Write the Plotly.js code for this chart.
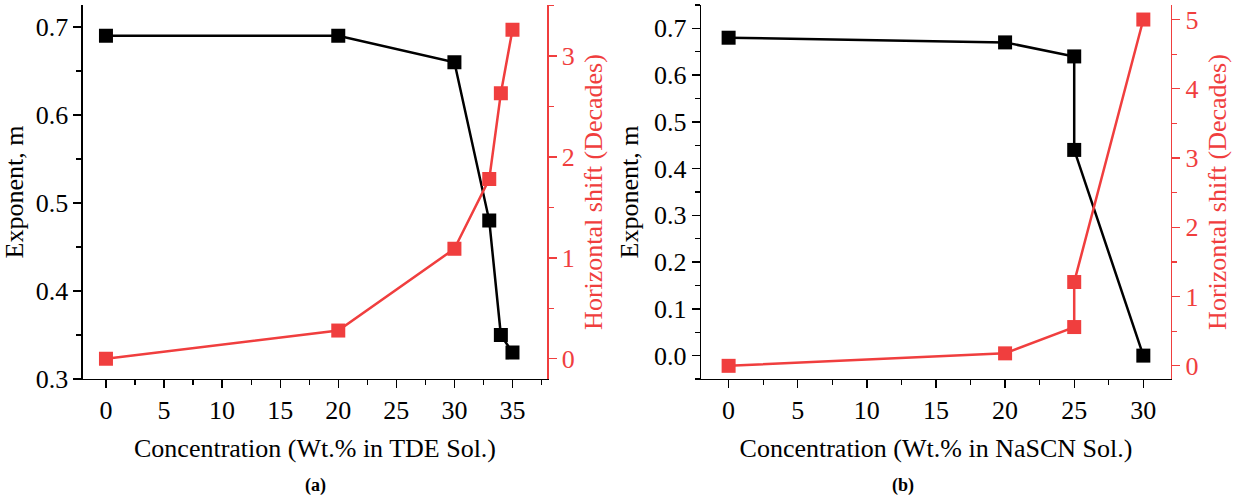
<!DOCTYPE html>
<html>
<head>
<meta charset="utf-8">
<script src="https://cdn.plot.ly/plotly-3.0.1.min.js"></script>
<style>html,body{margin:0;padding:0;background:#fff;}#chart{width:1233px;height:499px;}</style>
</head>
<body>
<div id="chart"></div>
<script>
// Panel (a): TDE solution
const concA = [0, 20, 30, 33, 34, 35];
const exponentA = [0.69, 0.69, 0.66, 0.48, 0.35, 0.33];
const shiftA = [0.0, 0.28, 1.09, 1.78, 2.63, 3.26];

// Panel (b): NaSCN solution
const concB = [0, 20, 25, 25, 30];
const exponentB = [0.68, 0.67, 0.64, 0.44, 0.0];
const shiftB = [0.0, 0.18, 0.56, 1.21, 5.0];

const xTitleA = "Concentration (Wt.% in TDE Sol.)";
const xTitleB = "Concentration (Wt.% in NaSCN Sol.)";
const yTitleLeft = "Exponent, m";
const yTitleRight = "Horizontal shift (Decades)";
const panelLabels = ["(a)", "(b)"];

const BLACK = "#000000";
const RED = "#f03e3e";
const FONT = "'Liberation Serif', 'Times New Roman', Times, 'DejaVu Serif', serif";
const FS = 26;
const TFS = 26;

function trace(x, y, xa, ya, color) {
  return {
    x: x, y: y, xaxis: xa, yaxis: ya, type: "scatter", mode: "lines+markers",
    line: {color: color, width: 2.5},
    marker: {symbol: "square", size: 14, color: color},
    showlegend: false, hoverinfo: "x+y"
  };
}

const data = [
  trace(concA, exponentA, "x", "y", BLACK),
  trace(concA, shiftA, "x", "y2", RED),
  trace(concB, exponentB, "x2", "y3", BLACK),
  trace(concB, shiftB, "x2", "y4", RED)
];

const yDom = [0.2405, 0.99];
const domA = [0.0671, 0.4439];
const domB = [0.5685, 0.9497];

function xAxis(dom, range, anchor, title) {
  return {
    domain: dom, range: range, anchor: anchor, dtick: 5, tick0: 0,
    ticks: "outside", ticklen: 8, tickwidth: 1.3, tickcolor: BLACK,
    minor: {dtick: 2.5, ticks: "outside", ticklen: 5, tickwidth: 1.3, tickcolor: BLACK},
    showline: true, linecolor: BLACK, linewidth: 1.3, showgrid: false, zeroline: false,
    tickfont: {family: FONT, size: FS, color: BLACK},
    title: {text: title, font: {family: FONT, size: TFS, color: BLACK}, standoff: 14}
  };
}
function topAxis(dom, range, anchor, overlay) {
  return {
    domain: dom, range: range, anchor: anchor, overlaying: overlay, side: "top",
    dtick: 5, tick0: 0, ticks: "inside", ticklen: 8, tickwidth: 1.3, tickcolor: BLACK,
    minor: {dtick: 2.5, ticks: "inside", ticklen: 5, tickwidth: 1.3, tickcolor: BLACK},
    showline: true, linecolor: BLACK, linewidth: 1.3, showgrid: false, zeroline: false,
    showticklabels: false
  };
}
function yLeft(range, anchor) {
  return {
    domain: yDom, range: range, anchor: anchor, dtick: 0.1, tick0: 0, tickformat: ".1f",
    ticks: "outside", ticklen: 8, tickwidth: 1.3, tickcolor: BLACK,
    minor: {dtick: 0.05, ticks: "outside", ticklen: 5, tickwidth: 1.3, tickcolor: BLACK},
    showline: true, linecolor: BLACK, linewidth: 1.3, showgrid: false, zeroline: false,
    tickfont: {family: FONT, size: FS, color: BLACK},
    title: {text: yTitleLeft, font: {family: FONT, size: TFS, color: BLACK}, standoff: 8}
  };
}
function yRight(range, anchor, overlay) {
  return {
    domain: yDom, range: range, anchor: anchor, overlaying: overlay, side: "right",
    dtick: 1, tick0: 0,
    ticks: "outside", ticklen: 8, tickwidth: 1.3, tickcolor: RED,
    minor: {dtick: 0.5, ticks: "outside", ticklen: 5, tickwidth: 1.3, tickcolor: RED},
    showline: true, linecolor: RED, linewidth: 1.3, showgrid: false, zeroline: false,
    tickfont: {family: FONT, size: FS, color: RED},
    title: {text: yTitleRight, font: {family: FONT, size: TFS, color: RED}, standoff: 10}
  };
}

const layout = {
  width: 1233, height: 499,
  margin: {l: 0, r: 0, t: 0, b: 0},
  paper_bgcolor: "#ffffff", plot_bgcolor: "#ffffff",
  font: {family: FONT, size: FS, color: BLACK},
  xaxis: xAxis(domA, [-2, 38], "y", xTitleA),
  yaxis: yLeft([0.3, 0.725], "x"),
  yaxis2: yRight([-0.2, 3.505], "x", "y"),
  xaxis2: xAxis(domB, [-2, 32], "y3", xTitleB),
  yaxis3: yLeft([-0.05, 0.75], "x2"),
  yaxis4: yRight([-0.19, 5.21], "x2", "y3"),
  xaxis3: topAxis(domA, [-2, 38], "y", "x"),
  xaxis4: topAxis(domB, [-2, 32], "y3", "x2"),
  annotations: [
    {text: "<b>" + panelLabels[0] + "</b>", xref: "paper", yref: "paper", x: 303/1233, y: 1 - 485/499,
     yanchor: "middle", showarrow: false, font: {family: FONT, size: 18, color: BLACK}},
    {text: "<b>" + panelLabels[1] + "</b>", xref: "paper", yref: "paper", x: 916/1233, y: 1 - 485/499,
     yanchor: "middle", showarrow: false, font: {family: FONT, size: 18, color: BLACK}}
  ]
};

Plotly.newPlot("chart", data, layout, {staticPlot: true, displayModeBar: false});
</script>
</body>
</html>
